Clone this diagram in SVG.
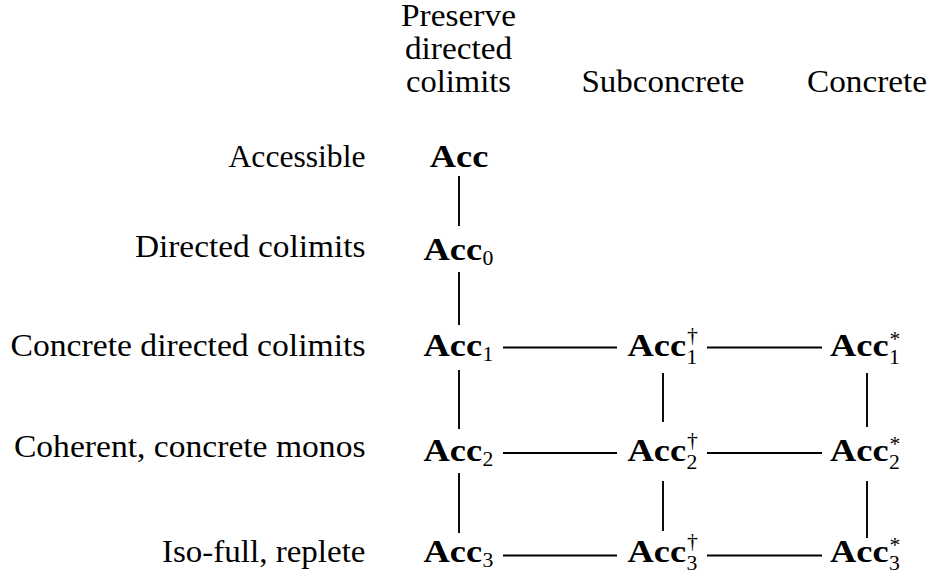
<svg xmlns="http://www.w3.org/2000/svg" width="933" height="579" viewBox="0 0 933 579">
<style>
text{font-family:"Liberation Serif","DejaVu Serif","Times New Roman",serif;fill:#000}
.r{font-size:31px}
.e{text-anchor:end}
.m{text-anchor:middle}
.b{font-size:31px;font-weight:bold}
.s{font-size:21.7px}
.c line{stroke:#000;stroke-width:1.9}
</style>
<rect width="933" height="579" fill="#fff"/>
<g id="headers">
<text class="r m" x="458.5" y="26" textLength="115" lengthAdjust="spacingAndGlyphs">Preserve</text>
<text class="r m" x="458.5" y="58.5" textLength="107" lengthAdjust="spacingAndGlyphs">directed</text>
<text class="r m" x="458.5" y="91.7" textLength="105" lengthAdjust="spacingAndGlyphs">colimits</text>
<text class="r m" x="663" y="92" textLength="163" lengthAdjust="spacingAndGlyphs">Subconcrete</text>
<text class="r m" x="867" y="92" textLength="120" lengthAdjust="spacingAndGlyphs">Concrete</text>
</g>
<g id="row-labels">
<text class="r e" x="365.5" y="166.5" textLength="137" lengthAdjust="spacingAndGlyphs">Accessible</text>
<text class="r e" x="365.5" y="257" textLength="230.6" lengthAdjust="spacingAndGlyphs">Directed colimits</text>
<text class="r e" x="365.5" y="356" textLength="355" lengthAdjust="spacingAndGlyphs">Concrete directed colimits</text>
<text class="r e" x="365.5" y="457" textLength="351.6" lengthAdjust="spacingAndGlyphs">Coherent, concrete monos</text>
<text class="r e" x="365.5" y="562" textLength="203.5" lengthAdjust="spacingAndGlyphs">Iso-full, replete</text>
</g>
<g class="c" id="connectors">
<line x1="459" y1="176" x2="459" y2="226"/>
<line x1="459" y1="272" x2="459" y2="325"/>
<line x1="459" y1="370" x2="459" y2="429"/>
<line x1="459" y1="473" x2="459" y2="533"/>
<line x1="663" y1="373" x2="663" y2="422"/>
<line x1="663" y1="481" x2="663" y2="531"/>
<line x1="867" y1="373" x2="867" y2="427"/>
<line x1="867" y1="481" x2="867" y2="538"/>
<line x1="503" y1="347.5" x2="617" y2="347.5"/>
<line x1="707" y1="347.5" x2="822" y2="347.5"/>
<line x1="503" y1="453" x2="617" y2="453"/>
<line x1="707" y1="453" x2="822" y2="453"/>
<line x1="503" y1="555.5" x2="617" y2="555.5"/>
<line x1="707" y1="555.5" x2="822" y2="555.5"/>
</g>
<g id="Acc"><text class="b" x="429.7" y="166.5" textLength="58.6" lengthAdjust="spacingAndGlyphs">Acc</text></g>
<g id="Acc0"><text class="b" x="423.5" y="260" textLength="58.6" lengthAdjust="spacingAndGlyphs">Acc</text><text class="s" x="482.5" y="264.6">0</text></g>
<g id="Acc1"><text class="b" x="423.5" y="356" textLength="58.6" lengthAdjust="spacingAndGlyphs">Acc</text><text class="s" x="482.5" y="360.6">1</text></g>
<g id="Acc2"><text class="b" x="423.5" y="461" textLength="58.6" lengthAdjust="spacingAndGlyphs">Acc</text><text class="s" x="482.5" y="465.6">2</text></g>
<g id="Acc3"><text class="b" x="423.5" y="562" textLength="58.6" lengthAdjust="spacingAndGlyphs">Acc</text><text class="s" x="482.5" y="566.6">3</text></g>
<g id="AccDagger1"><text class="b" x="627.5" y="356" textLength="58.6" lengthAdjust="spacingAndGlyphs">Acc</text><text class="s" x="687" y="342">†</text><text class="s" x="686.5" y="364">1</text></g>
<g id="AccDagger2"><text class="b" x="627.5" y="461" textLength="58.6" lengthAdjust="spacingAndGlyphs">Acc</text><text class="s" x="687" y="447">†</text><text class="s" x="686.5" y="469">2</text></g>
<g id="AccDagger3"><text class="b" x="627.5" y="562" textLength="58.6" lengthAdjust="spacingAndGlyphs">Acc</text><text class="s" x="687" y="548">†</text><text class="s" x="686.5" y="570">3</text></g>
<g id="AccStar1"><text class="b" x="830" y="356" textLength="58.6" lengthAdjust="spacingAndGlyphs">Acc</text><text class="s" x="889.5" y="346">*</text><text class="s" x="889" y="364">1</text></g>
<g id="AccStar2"><text class="b" x="830" y="461" textLength="58.6" lengthAdjust="spacingAndGlyphs">Acc</text><text class="s" x="889.5" y="451">*</text><text class="s" x="889" y="469">2</text></g>
<g id="AccStar3"><text class="b" x="830" y="562" textLength="58.6" lengthAdjust="spacingAndGlyphs">Acc</text><text class="s" x="889.5" y="552">*</text><text class="s" x="889" y="570">3</text></g>
</svg>
